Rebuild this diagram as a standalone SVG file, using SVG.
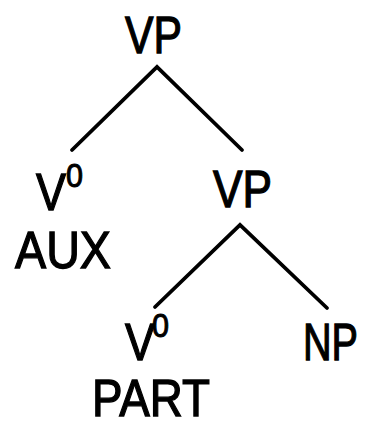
<svg xmlns="http://www.w3.org/2000/svg" width="369" height="421" viewBox="0 0 369 421">
  <style>
    .lbl { font-family: "Liberation Sans", Arial, Helvetica, sans-serif; font-size: 52px; fill: #000; stroke: #000; stroke-width: 1.3; }
    .sup { font-family: "Liberation Sans", Arial, Helvetica, sans-serif; font-size: 33px; fill: #000; stroke: #000; stroke-width: 1; }
    .edge { stroke: #000; stroke-width: 3.8; fill: none; stroke-linecap: round; stroke-linejoin: miter; }
  </style>
  <rect width="369" height="421" fill="#fff"/>

  <!-- tree branches -->
  <g id="connectors">
    <polyline class="edge" points="72,150 157,67 242,150"/>
    <polyline class="edge" points="155,307 240,225 327,308"/>
  </g>

  <!-- nodes -->
  <g id="vp-root">
    <text class="lbl" x="125" y="53" textLength="57" lengthAdjust="spacingAndGlyphs">VP</text>
  </g>
  <g id="v0-aux">
    <text class="lbl" x="36" y="210" textLength="30" lengthAdjust="spacingAndGlyphs">V</text>
    <text class="sup" x="66" y="187" textLength="17" lengthAdjust="spacingAndGlyphs">0</text>
    <text class="lbl" x="15" y="268" textLength="96" lengthAdjust="spacingAndGlyphs">AUX</text>
  </g>
  <g id="vp-inner">
    <text class="lbl" x="213" y="207" textLength="59" lengthAdjust="spacingAndGlyphs">VP</text>
  </g>
  <g id="v0-part">
    <text class="lbl" x="125" y="360" textLength="30" lengthAdjust="spacingAndGlyphs">V</text>
    <text class="sup" x="152" y="337" textLength="17" lengthAdjust="spacingAndGlyphs">0</text>
    <text class="lbl" x="92" y="416" textLength="118" lengthAdjust="spacingAndGlyphs">PART</text>
  </g>
  <g id="np">
    <text class="lbl" x="303" y="360" textLength="55" lengthAdjust="spacingAndGlyphs">NP</text>
  </g>
</svg>
